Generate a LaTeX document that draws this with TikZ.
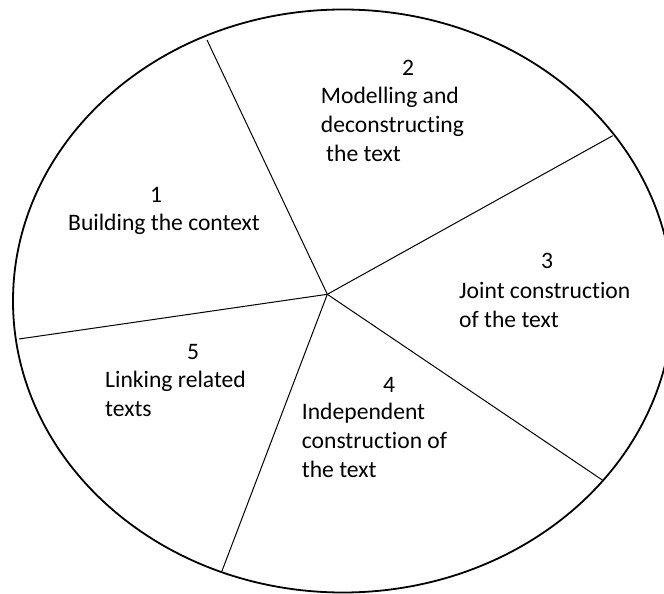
\documentclass[tikz,border=0pt]{standalone}
\usepackage{fontspec}
\setmainfont[Ligatures=NoCommon]{Carlito}
\begin{document}
\begin{tikzpicture}[x=1pt,y=-1pt,
 lbl/.style={inner sep=0pt, align=left, font=\fontsize{23.6pt}{28.6pt}\selectfont},
 spoke/.style={line width=1pt}]
 \useasboundingbox (0,0) rectangle (664,594);
 \clip (0,0) rectangle (664,594);
 \draw [line width=1.8pt] (343,301) ellipse [x radius=330, y radius=291.5];

 \coordinate (hub) at (327.3,294.3);
 \coordinate (e1) at (207,40);
 \coordinate (e2) at (612.7,135.7);
 \coordinate (e3) at (603.3,480.7);
 \coordinate (e4) at (221.7,571.7);
 \coordinate (e5) at (19,339);
 \foreach \i in {1,...,5} \draw [spoke] (hub) -- (e\i);

 % multi-line labels: base anchor sits on the last line
 \node [lbl, anchor=base] (n1) at (156,202.5) {1};
 \node [lbl, anchor=base west] (t1) at (68,230.5) {Building the context};
 \node [lbl, anchor=base] (n2) at (408,75.5) {2};
 \node [lbl, anchor=base west] (t2) at (320.7,161) {Modelling and\\deconstructing\\\ the text};
 \node [lbl, anchor=base] (n3) at (547,268.5) {3};
 \node [lbl, anchor=base west] (t3) at (459,327.3) {Joint construction\\of the text};
 \node [lbl, anchor=base] (n4) at (389,392) {4};
 \node [lbl, anchor=base west] (t4) at (301.7,477) {Independent\\construction of\\the text};
 \node [lbl, anchor=base] (n5) at (193,359.5) {5};
 \node [lbl, anchor=base west] (t5) at (105,416) {Linking related\\texts};
\end{tikzpicture}
\end{document}
